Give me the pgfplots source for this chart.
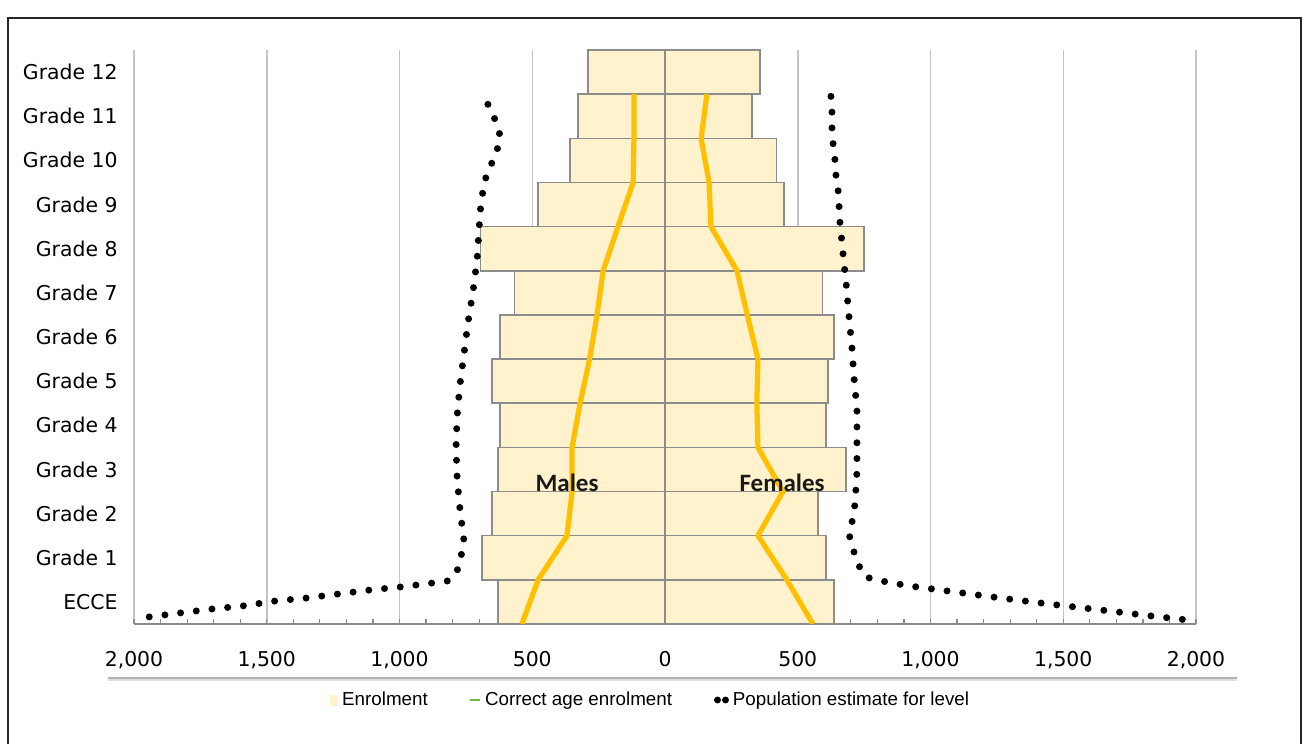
\documentclass[border=0pt]{standalone}
\usepackage{fontspec}
\setmainfont{DejaVu Sans}
\newfontfamily\legfont{Liberation Sans}
\newfontfamily\labfont{Carlito}
\usepackage{pgfplots}
\pgfplotsset{compat=1.18}

\definecolor{barfill}{HTML}{FFF2CC}
\definecolor{barline}{HTML}{8C8C8C}
\definecolor{cae}{HTML}{FFC000}
\definecolor{leggreen}{HTML}{66BB44}
\definecolor{gridgray}{HTML}{C4C4C4}
\definecolor{axisgray}{HTML}{8A8A8A}

\begin{document}
\begin{tikzpicture}
\useasboundingbox (0pt,0pt) rectangle (651.5pt,372pt);
% outer frame
\draw[black!85, line width=1.4pt] (4pt,-5pt) -- (4pt,363pt) -- (650.5pt,363pt) -- (650.5pt,-5pt);

\begin{axis}[
    at={(67pt,60pt)}, anchor=south west,
    scale only axis, width=531pt, height=287pt,
    xmin=-2000, xmax=2000,
    ymin=-0.5, ymax=12.5,
    axis x line*=bottom,
    axis y line*=left,
    y axis line style={draw=none},
    x axis line style={axisgray, line width=1pt},
    xtick={-2000,-1500,-1000,-500,0,500,1000,1500,2000},
    xticklabels={{2,000},{1,500},{1,000},500,0,500,{1,000},{1,500},{2,000}},
    minor x tick num=4,
    tick align=inside,
    major tick length=2.5pt, minor tick length=2.5pt,
    xtick style={axisgray, line width=0.6pt},
    minor tick style={axisgray, line width=0.6pt},
    ytick={0,...,12},
    yticklabels={ECCE,Grade 1,Grade 2,Grade 3,Grade 4,Grade 5,Grade 6,Grade 7,Grade 8,Grade 9,Grade 10,Grade 11,Grade 12},
    ytick style={draw=none},
    tick label style={font=\fontsize{10.2}{12}\selectfont, text=black},
    xticklabel style={inner sep=0pt, anchor=north, yshift=-13.3pt},
    yticklabel style={inner sep=0pt, anchor=east, xshift=-8pt},
    xmajorgrids,
    grid style={gridgray, line width=0.75pt},
    legend columns=3,
    legend style={at={(0.4875,-0.1324)}, anchor=center, draw=none, fill=none,
        font=\legfont\fontsize{9.4}{11}\selectfont,
        /tikz/every even column/.append style={column sep=19pt}},
]
% enrolment: males (negative) and females (positive)
\addplot[forget plot, xbar, bar width=1, bar shift=0pt, fill=barfill, draw=barline, line width=0.75pt]
coordinates {
    (-629,0) (-689,1) (-652,2) (-629,3) (-621,4) (-652,5) (-621,6)
    (-567,7) (-695,8) (-478,9) (-358,10) (-328,11) (-290,12)
};
\addplot[forget plot, xbar, bar width=1, bar shift=0pt, fill=barfill, draw=barline, line width=0.75pt]
coordinates {
    (636,0) (606,1) (576,2) (682,3) (606,4) (614,5) (636,6)
    (593,7) (749,8) (448,9) (420,10) (328,11) (358,12)
};
% correct age enrolment
\addplot[forget plot, cae, line width=2.6pt, line join=round]
coordinates {
    (-117,11.5) (-117,10.5) (-120,9.5) (-177,8.5) (-233,7.5) (-256,6.5)
    (-284,5.5) (-320,4.5) (-350,3.5) (-350,2.5) (-369,1.5) (-478,0.5) (-539,-0.5)
};
\addplot[forget plot, cae, line width=2.6pt, line join=round]
coordinates {
    (158,11.5) (136,10.5) (166,9.5) (173,8.5) (271,7.5) (310,6.5)
    (350,5.5) (346,4.5) (350,3.5) (444,2.5) (350,1.5) (459,0.5) (557,-0.5)
};
% population estimate for level
\addplot[forget plot, black, line width=3.5pt, line cap=round, dash pattern=on 0pt off 7.9pt]
coordinates {
    (-667,11.27) (-659,11.20) (-636,10.86) (-618,10.50) (-636,10.18) (-659,9.84)
    (-682,9.50) (-689,9.16) (-697,8.80) (-700,8.46) (-708,7.74) (-723,7.04)
    (-742,6.33) (-757,5.63) (-772,4.93) (-783,4.21) (-787,3.51) (-783,2.81)
    (-772,2.08) (-757,1.38) (-768,1.04) (-783,0.70) (-813,0.48) (-874,0.43)
    (-994,0.34) (-1111,0.27) (-1231,0.18) (-1348,0.09) (-1469,0.02) (-1589,-0.09)
    (-1706,-0.16) (-1826,-0.25) (-1943,-0.34) (-2000,-0.36)
};
\addplot[forget plot, black, line width=3.5pt, line cap=round, dash pattern=on 0pt off 7.9pt]
coordinates {
    (625,11.45) (629,11.09) (629,10.72) (633,10.38) (640,10.02) (644,9.66)
    (652,9.32) (659,8.60) (670,7.92) (682,7.22) (693,6.47) (704,5.77)
    (712,5.07) (723,4.37) (723,3.67) (723,2.96) (716,2.24) (708,1.90)
    (693,1.54) (708,1.20) (727,0.86) (753,0.57) (810,0.48) (923,0.36)
    (1262,0.09) (1450,-0.05) (1638,-0.18) (1820,-0.31) (2000,-0.43)
};
\node[font=\labfont\bfseries\fontsize{12.5}{14}\selectfont, text=black!90] at (axis cs:-369,2.69) {Males};
\node[font=\labfont\bfseries\fontsize{12.5}{14}\selectfont, text=black!90] at (axis cs:441,2.69) {Females};

\addlegendimage{legend image code/.code={\fill[barfill] (0pt,-2.5pt) rectangle (3.5pt,2.5pt);}}
\addlegendentry{Enrolment}
\addlegendimage{legend image code/.code={\draw[leggreen, line width=0.6pt] (0pt,0pt) -- (5pt,0pt);}}
\addlegendentry{Correct age enrolment}
\addlegendimage{legend image code/.code={\fill[black] (1.5pt,0pt) circle (1.5pt); \fill[black] (5.5pt,0pt) circle (1.5pt);}}
\addlegendentry{Population estimate for level}
\end{axis}

% separator under the tick labels
\draw[gray!60, line width=1pt] (54pt,33pt) -- (618.5pt,33pt);
\draw[gray!25, line width=1pt] (54pt,32pt) -- (618.5pt,32pt);
\end{tikzpicture}
\end{document}
